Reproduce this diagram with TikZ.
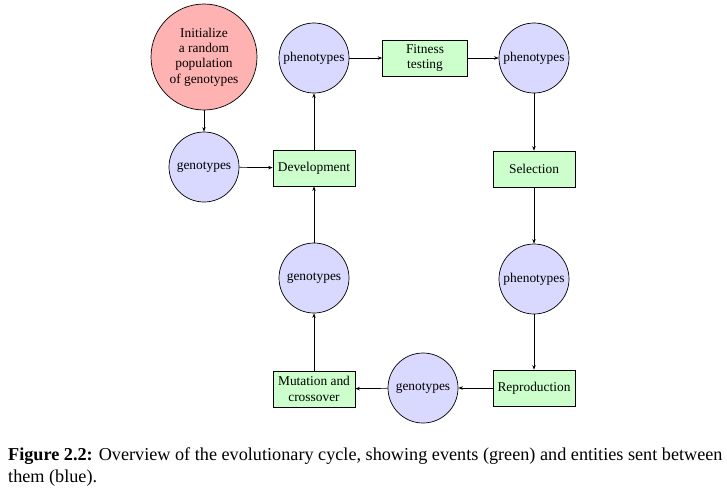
\documentclass[tikz,border=0pt]{standalone}
\usepackage{fontspec}
\setmainfont{Liberation Serif}
\usetikzlibrary{arrows.meta}
\begin{document}
\begin{tikzpicture}[x=1pt,y=-1pt,
  every node/.style={font=\fontsize{13.4}{15.4}\selectfont},
  entity/.style={circle,draw=black,line width=0.7pt,fill=blue!15,minimum size=70pt,inner sep=1pt,align=center},
  initnode/.style={circle,draw=black,line width=0.7pt,fill=red!30,minimum size=106pt,inner sep=1pt,align=center},
  eventbox/.style={rectangle,draw=black,line width=0.7pt,fill=green!20,minimum width=82pt,minimum height=36pt,inner sep=4pt,align=center},
  conn/.style={-{Stealth[length=4.5pt,width=3.5pt]},line width=0.7pt},
  capfont/.style={font=\fontsize{18.2}{22}\selectfont,inner sep=0pt}]
\useasboundingbox (0,0) rectangle (727,488);
\node[initnode] (init) at (204,57) {Initialize\\a random\\population\\of genotypes};
\node[entity] (g1) at (204,167) {genotypes};
\node[eventbox] (dev) at (314,168) {Development};
\node[entity] (p1) at (314,58) {phenotypes};
\node[eventbox,minimum width=85pt] (fit) at (425,58) {Fitness\\testing};
\node[entity] (p2) at (534,58) {phenotypes};
\node[eventbox] (sel) at (534,169) {Selection};
\node[entity] (p3) at (534,279) {phenotypes};
\node[eventbox] (rep) at (534,388) {Reproduction};
\node[entity] (g2) at (423,388) {genotypes};
\node[eventbox] (mut) at (314,389) {Mutation and\\crossover};
\node[entity] (g3) at (314,278) {genotypes};
\draw[conn] (init) -- (g1);
\draw[conn] (g1) -- (dev);
\draw[conn] (dev) -- (p1);
\draw[conn] (p1) -- (fit);
\draw[conn] (fit) -- (p2);
\draw[conn] (p2) -- (sel);
\draw[conn] (sel) -- (p3);
\draw[conn] (p3) -- (rep);
\draw[conn] (rep) -- (g2);
\draw[conn] (g2) -- (mut);
\draw[conn] (mut) -- (g3);
\draw[conn] (g3) -- (dev);
\node[capfont,anchor=base west] (cap1) at (8,460) {\textbf{Figure 2.2:} Overview of the evolutionary cycle, showing events (green) and entities sent between};
\node[capfont,anchor=base west] (cap2) at (8,482) {them (blue).};
\end{tikzpicture}
\end{document}
